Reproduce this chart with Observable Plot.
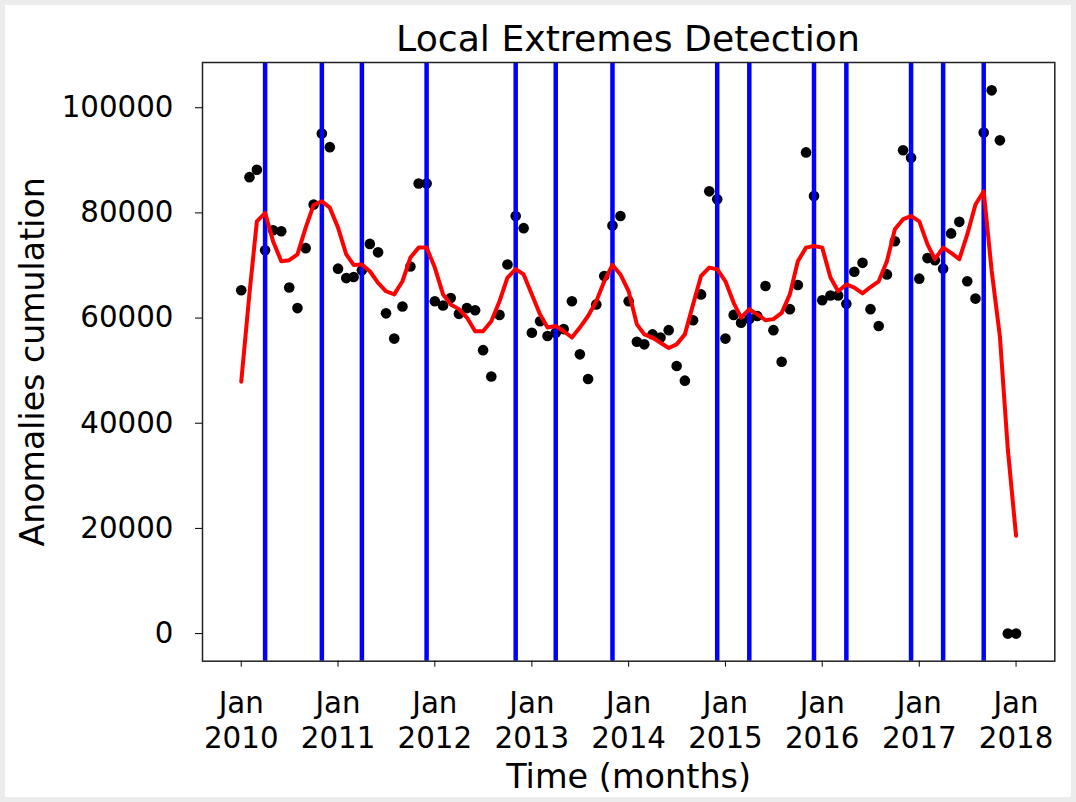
<!DOCTYPE html>
<html><head><meta charset="utf-8">
<script src="https://cdn.jsdelivr.net/npm/d3@7"></script>
<script src="https://cdn.jsdelivr.net/npm/@observablehq/plot@0.6"></script>
<style>
body{margin:0;background:#ececec;}
#outer{position:relative;width:1076px;height:802px;background:#ececec;overflow:hidden;font-family:"DejaVu Sans",sans-serif;}
#inner{position:absolute;left:5px;top:5px;width:1066px;height:792px;background:#fff;}
#title{position:absolute;left:228px;width:800px;top:21px;text-align:center;font-size:36.2px;line-height:36px;color:#000;white-space:nowrap;}
#chart{position:absolute;left:0;top:55px;}
</style></head><body>
<div id="outer"><div id="inner"></div><div id="title">Local Extremes Detection</div><div id="chart"></div></div>
<script>
// Monthly observations, Jan 2010 .. Jan 2018 (thousands)
const firstMonth = "2010-01";
const lastMonth = "2018-01";
const values = [
  65.3, 86.8, 88.2, 72.9, 76.7, 76.5, 65.8, 61.9, 73.3, 81.6, 95.1, 92.5,
  69.4, 67.6, 67.8, 69.1, 74.1, 72.5, 60.9, 56.1, 62.2, 69.8, 85.6, 85.6,
  63.2, 62.4, 63.8, 60.8, 61.9, 61.5, 53.9, 48.9, 60.6, 70.2, 79.4, 77.1,
  57.2, 59.4, 56.6, 57.2, 57.9, 63.2, 53.1, 48.4, 62.6, 68.0, 77.6, 79.4,
  63.2, 55.5, 55.0, 56.9, 56.3, 57.7, 50.9, 48.1, 59.6, 64.5, 84.1, 82.6,
  56.1, 60.6, 59.1, 59.8, 60.4, 66.1, 57.7, 51.7, 61.7, 66.3, 91.5, 83.2,
  63.4, 64.3, 64.3, 62.7, 68.8, 70.5, 61.7, 58.5, 68.3, 74.6, 91.9, 90.5,
  67.5, 71.4, 71.0, 69.4, 76.1, 78.3, 67.0, 63.7, 95.3, 103.3, 93.8, 0,
  0
];
const smoothed = [
  47.9, 64.7, 78.4, 80.0, 74.6, 70.8, 71.0, 72.1, 77.2, 81.5, 82.2, 81.0,
  77.2, 72.1, 70.1, 70.2, 68.9, 66.7, 65.1, 64.5, 67.0, 71.5, 73.4, 73.4,
  69.6, 64.5, 62.6, 61.7, 60.1, 57.5, 57.5, 59.4, 63.2, 67.7, 69.3, 68.3,
  64.5, 60.7, 58.2, 58.5, 57.5, 56.3, 58.2, 60.4, 63.2, 67.0, 70.1, 68.3,
  65.1, 58.8, 56.9, 56.3, 55.3, 54.3, 55.0, 56.9, 62.6, 68.0, 69.6, 69.3,
  67.0, 62.9, 60.1, 61.7, 60.7, 59.6, 59.8, 61.0, 64.5, 70.8, 73.4, 73.7,
  73.4, 67.7, 65.1, 66.4, 65.8, 64.7, 65.9, 67.0, 70.8, 76.9, 78.8, 79.4,
  78.4, 74.0, 71.2, 73.4, 72.4, 71.2, 75.9, 81.6, 84.1, 69.0, 56.5, 35.0,
  18.6
];
const extremeMonths = ["2010-04","2010-11","2011-04","2011-12","2012-11","2013-04","2013-11",
  "2014-12","2015-04","2015-12","2016-04","2016-12","2017-04","2017-09"];
const yTicks = [0, 20000, 40000, 60000, 80000, 100000];
const xTickYears = [2010, 2011, 2012, 2013, 2014, 2015, 2016, 2017, 2018];

const parseMonth = d3.utcParse("%Y-%m");
const start = parseMonth(firstMonth), end = parseMonth(lastMonth);
const dates = d3.utcMonth.range(start, d3.utcMonth.offset(end, 1));
const data = dates.map((d, i) => ({date: d, value: values[i] * 1000, smooth: smoothed[i] * 1000}));
const extremeDates = extremeMonths.map(parseMonth);
const tickDates = xTickYears.map(y => new Date(Date.UTC(y, 0, 1)));
const pad = (end - start) * 0.05;

const chart = Plot.plot({
  width: 1076, height: 747,
  marginLeft: 202, marginRight: 21.7, marginTop: 7, marginBottom: 141.3,
  style: {fontFamily: "'DejaVu Sans', sans-serif", fontSize: "29.3px", color: "#000", background: "transparent", overflow: "visible"},
  x: {type: "utc", domain: [new Date(+start - pad), new Date(+end + pad)]},
  y: {domain: [-5250, 108600]},
  marks: [
    Plot.dot(data, {x: "date", y: "value", r: 5.3, fill: "#000", stroke: "none"}),
    Plot.ruleX(extremeDates, {x: d => d, stroke: "#0000ff", strokeWidth: 4.5}),
    Plot.line(data, {x: "date", y: "smooth", stroke: "#ff0000", strokeWidth: 4}),
    Plot.frame({stroke: "#222", strokeWidth: 1.5}),
    Plot.axisX({ticks: tickDates, tickFormat: d => `Jan\n${d.getUTCFullYear()}`, tickSize: 6, tickPadding: 21, fontSize: 29.3, lineHeight: 1.2, label: null, stroke: "#000"}),
    Plot.axisY({ticks: yTicks, tickFormat: d => String(d), tickSize: 7, tickPadding: 22, fontSize: 29.3, label: null, stroke: "#000"}),
    Plot.text(["Anomalies cumulation"], {text: d => d, frameAnchor: "left", dx: -169, rotate: -90, fontSize: 33.2, textAnchor: "middle", lineAnchor: "middle", fill: "#000"}),
    Plot.text(["Time (months)"], {text: d => d, frameAnchor: "bottom", dy: 116, fontSize: 33.5, textAnchor: "middle", lineAnchor: "middle", fill: "#000"})
  ]
});
document.getElementById("chart").appendChild(chart);
</script>
</body></html>
